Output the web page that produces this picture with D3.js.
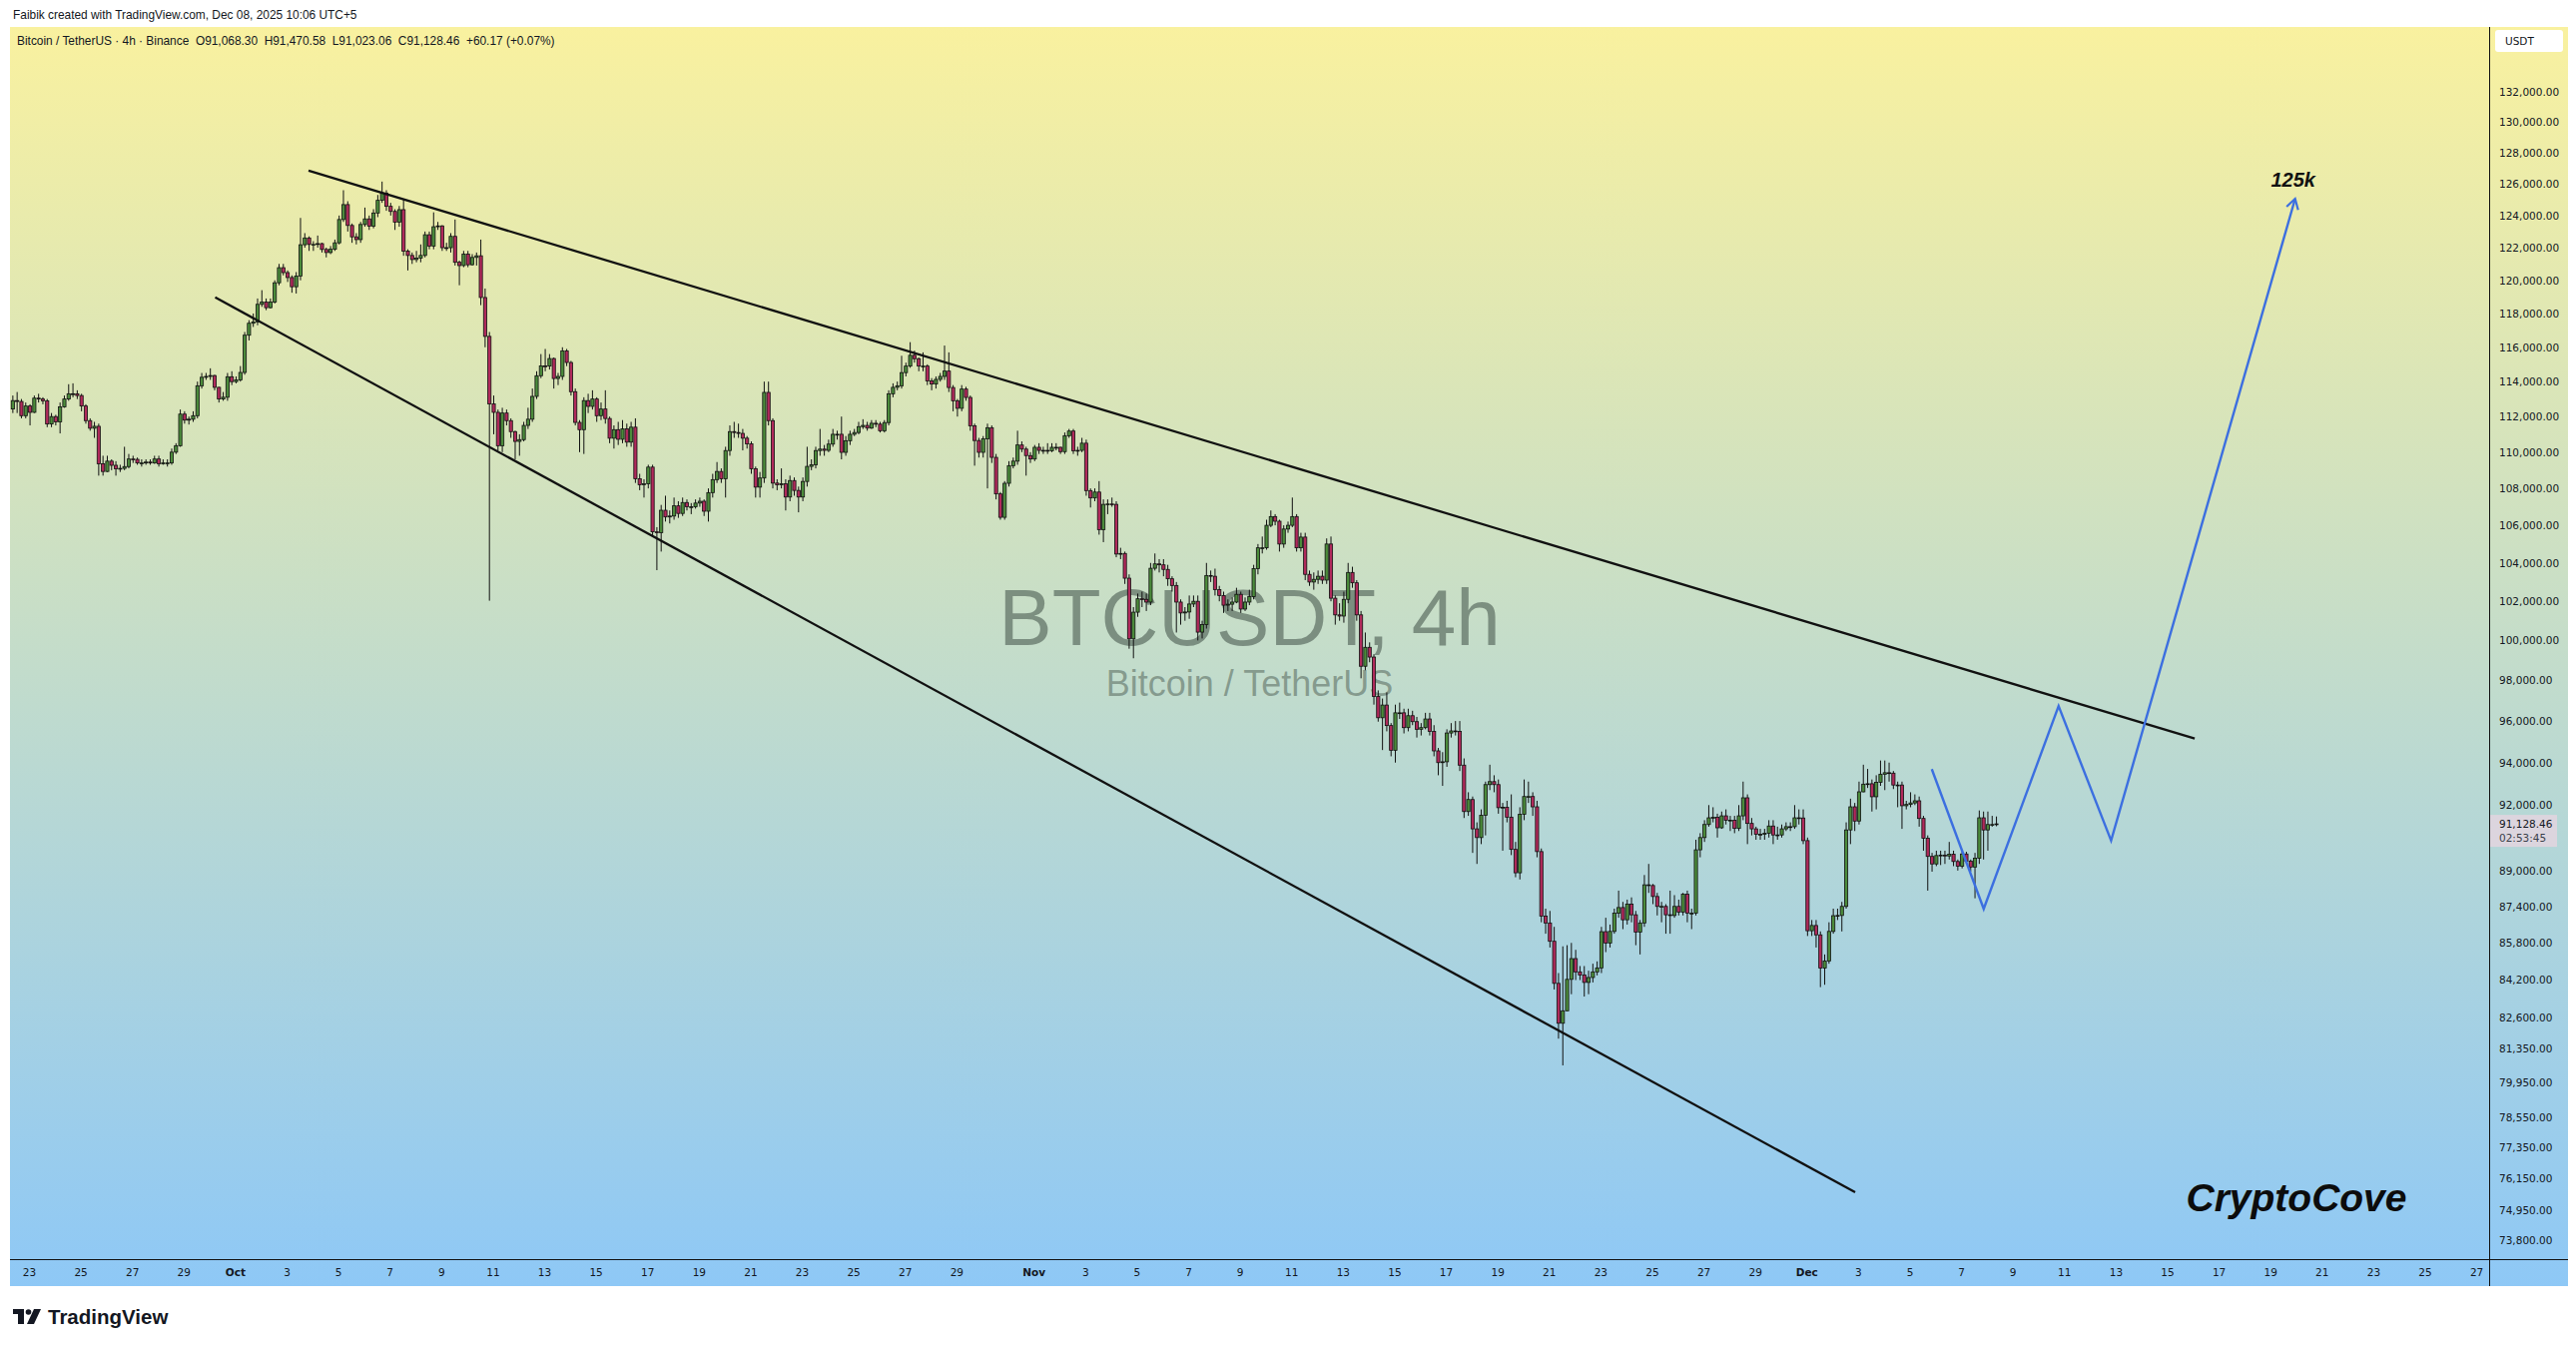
<!DOCTYPE html>
<html>
<head>
<meta charset="utf-8">
<script src="https://cdn.jsdelivr.net/npm/d3@7"></script>
<style>
  body { margin: 0; background: #fff; }
  svg { display: block; }
</style>
</head>
<body>
<svg id="chart"></svg>
<script>
// ---- data (prices in thousands of USDT, 4h candles, times in UTC+5 shown as-is) ----
var firstCandle = "2025-09-22 09:00";
var firstOpen = 112.43;

var closes = [
  112.91,112.86,112.05,112.6,112.24,113.05,113.0,112.9,111.58,112.0,
  111.7,112.55,113.0,113.3,113.3,113.2,112.6,111.77,111.34,111.45,
  109.35,108.93,109.5,109.27,109.08,109.1,109.2,109.62,109.6,109.4,
  109.4,109.45,109.4,109.62,109.35,109.4,109.4,110.0,110.36,112.14,
  111.8,111.85,112.05,113.76,114.25,114.3,114.35,113.67,113.0,113.1,
  114.28,114.0,114.1,114.53,116.71,117.42,117.5,118.55,118.69,118.35,
  118.69,119.85,120.77,120.47,120.17,119.61,120.26,122.18,122.6,122.2,
  122.2,122.25,121.89,121.7,121.9,122.3,123.75,124.69,123.38,122.67,
  122.5,123.44,123.79,123.34,124.16,124.96,125.42,124.58,124.26,123.58,
  124.37,121.79,121.52,121.27,121.35,121.52,122.8,122.1,123.3,123.35,
  122.0,122.0,122.7,121.1,120.9,121.6,120.95,121.4,121.5,118.96,
  116.64,112.72,112.24,110.36,112.2,111.77,111.15,110.6,110.7,111.5,
  111.85,113.15,114.34,114.91,114.9,115.34,114.18,114.3,115.79,115.11,
  113.42,111.67,111.26,112.91,112.58,113.0,112.05,112.43,111.89,110.78,
  111.26,110.72,111.3,110.56,111.4,108.53,108.2,108.25,109.17,105.65,
  105.6,106.81,106.45,106.5,107.05,106.64,107.23,107.0,107.0,107.2,
  107.3,106.76,107.77,108.48,108.93,108.53,110.09,111.15,111.1,111.05,
  110.78,110.46,109.08,108.07,108.57,113.38,111.77,108.29,108.2,108.25,
  107.53,108.43,107.89,107.53,108.38,109.21,109.3,110.09,110.17,110.1,
  110.45,111.0,111.0,109.99,110.64,111.0,111.1,111.43,111.5,111.35,
  111.62,111.57,111.2,111.66,113.3,113.67,113.76,114.52,114.9,115.53,
  115.33,114.9,114.9,114.04,113.86,114.13,114.3,114.61,113.66,112.9,
  112.47,113.57,113.09,111.48,110.65,109.99,110.74,111.37,109.71,107.7,
  106.43,108.28,109.25,109.5,110.4,110.17,109.81,109.62,110.27,110.1,
  110.1,110.08,110.27,110.27,110.03,110.92,111.18,110.08,110.1,110.5,
  107.88,107.48,107.8,105.77,107.13,107.15,107.13,104.47,104.5,103.2,
  100.08,101.44,102.13,102.1,101.96,103.72,103.95,103.9,103.66,103.17,
  102.82,101.96,101.4,101.45,101.86,102.0,100.42,100.8,103.34,103.3,
  102.6,102.3,101.8,101.85,101.96,102.36,101.6,101.96,102.24,103.7,
  104.8,104.8,106.0,106.47,106.22,105.0,105.8,106.0,106.47,104.8,
  105.37,103.4,103.0,103.14,103.3,103.1,105.0,102.16,101.3,101.24,
  102.1,103.5,102.96,101.3,98.7,99.65,99.16,97.2,96.16,96.78,
  95.78,94.59,96.4,96.4,95.68,96.26,95.97,95.6,95.68,96.1,
  95.5,94.56,94.0,94.04,95.42,95.52,95.5,93.88,91.7,92.26,
  90.9,90.5,91.53,92.96,93.1,92.96,91.88,91.9,91.44,89.96,
  88.9,91.57,92.4,92.4,91.92,89.86,86.97,86.67,85.87,84.06,
  82.38,82.9,84.23,85.12,84.55,84.42,84.1,84.31,84.55,84.72,
  86.29,85.79,86.3,87.1,87.35,86.81,87.5,87.03,86.27,86.67,
  88.36,88.33,87.84,87.4,87.4,87.03,87.0,87.4,87.15,87.94,
  87.1,87.1,89.94,90.5,91.1,91.41,91.43,90.95,91.5,91.3,
  91.3,90.92,91.5,92.34,91.15,90.9,90.65,90.65,90.7,91.03,
  90.62,90.62,90.9,91.0,91.0,91.41,91.4,90.36,86.33,86.56,
  86.15,84.71,85.02,86.3,86.99,87.0,87.4,90.85,91.92,91.26,
  92.62,92.98,93.0,92.39,93.07,93.45,93.52,93.5,92.94,92.94,
  91.97,92.03,92.1,92.2,91.38,90.47,89.64,89.3,89.68,89.7,
  89.66,89.74,89.41,89.2,89.75,89.43,89.16,89.56,91.41,90.85,
  91.1,91.1,91.13
];

var highs = [
  113.2,113.4,113.0,112.8,112.7,113.2,113.3,113.1,113.0,112.2,
  112.1,112.8,113.2,113.85,113.9,113.5,113.3,112.7,111.9,111.7,
  111.6,109.8,109.8,109.6,109.5,109.3,110.3,109.9,109.8,109.7,
  109.6,109.6,109.6,109.8,109.8,109.6,109.6,110.2,110.5,112.4,
  112.3,112.0,112.3,114.0,114.5,114.5,114.77,114.4,113.7,113.4,
  114.5,114.6,114.3,114.9,116.9,117.6,118.0,118.9,119.4,118.9,
  118.9,120.0,121.0,121.0,120.6,120.3,120.5,123.85,122.9,122.7,
  122.4,122.75,122.3,122.0,122.1,122.5,124.0,125.6,124.9,123.5,
  122.9,123.6,124.5,124.0,124.4,125.3,126.15,125.6,124.8,124.4,
  124.6,125.0,121.9,121.7,121.8,122.2,123.0,123.0,124.2,123.6,
  123.4,122.3,122.9,123.75,121.2,121.8,121.8,121.6,121.7,122.5,
  119.5,116.9,113.2,112.4,112.5,112.4,111.9,111.2,111.0,111.7,
  112.5,113.6,114.6,115.6,115.9,115.6,115.4,114.5,116.0,115.9,
  115.2,113.6,111.8,113.1,113.3,113.5,113.1,112.8,113.5,112.0,
  111.5,111.7,111.8,111.6,111.7,111.9,108.8,108.5,109.3,109.3,
  105.9,107.1,107.6,106.8,107.5,107.3,107.5,107.4,107.2,107.4,
  107.5,107.4,108.0,108.8,109.45,109.1,110.3,111.5,111.7,111.6,
  111.3,110.9,110.6,109.2,108.9,114.0,114.0,111.9,108.5,109.1,
  108.5,108.7,108.6,108.1,108.6,110.3,109.6,110.3,111.3,110.4,
  110.7,111.3,111.2,112.0,110.9,111.2,111.3,111.7,111.85,111.7,
  111.8,111.8,111.7,111.8,113.5,113.9,114.0,115.5,115.1,116.3,
  115.8,115.4,115.7,115.0,114.2,114.3,114.5,116.1,115.7,113.8,
  113.0,113.8,113.7,113.2,111.6,110.8,110.9,111.6,111.5,109.9,
  107.8,108.4,109.5,109.7,111.2,110.6,110.3,110.0,110.4,110.5,
  110.3,110.5,110.5,110.5,110.3,111.1,111.3,111.3,110.3,110.8,
  110.7,108.0,108.0,108.4,107.4,107.4,107.5,107.3,104.8,104.6,
  103.4,101.7,102.4,102.5,102.4,104.0,104.5,104.2,104.2,103.9,
  103.3,103.0,102.1,101.7,102.3,102.3,102.3,101.0,104.0,103.6,
  103.7,102.8,102.5,102.1,102.2,102.7,102.5,102.2,102.6,103.9,
  105.0,105.4,106.3,106.8,106.6,106.3,106.0,106.2,107.5,106.6,
  105.6,105.6,103.6,103.5,103.6,103.6,105.3,105.4,102.3,101.9,
  102.5,104.0,103.8,103.1,101.5,100.4,99.9,99.3,97.5,97.1,
  97.4,95.9,96.8,96.9,96.6,96.6,96.5,96.2,95.9,96.4,
  96.4,95.8,94.7,94.5,95.6,95.9,96.0,96.0,94.2,92.6,
  92.4,91.2,91.8,93.1,93.9,93.4,93.2,92.1,92.2,92.5,
  90.3,91.9,93.2,93.1,92.6,92.2,90.0,87.3,87.2,86.5,
  84.5,85.65,85.7,85.8,85.5,84.8,84.8,84.6,84.9,85.0,
  86.5,86.9,86.6,87.3,88.1,87.6,87.7,87.8,87.2,86.8,
  88.8,89.3,88.4,88.0,87.6,87.5,88.1,87.9,87.7,88.0,
  88.1,87.3,90.4,90.7,91.3,92.0,91.9,91.6,91.7,91.8,
  91.5,91.5,92.0,93.1,92.5,91.4,91.0,90.9,90.9,91.3,
  91.3,91.0,91.1,91.2,91.2,92.0,91.8,91.8,90.5,86.8,
  86.8,86.3,85.3,86.7,87.3,87.3,87.6,91.2,92.3,92.1,
  93.1,93.9,93.7,93.2,93.4,94.1,94.1,94.0,93.6,93.1,
  93.1,92.2,92.6,92.5,92.4,91.5,90.6,89.8,89.9,89.9,
  89.9,90.3,89.9,89.5,89.9,89.85,89.5,89.8,91.75,91.7,
  91.7,91.5,91.47
];

var lows = [
  112.2,112.2,111.9,111.9,111.5,112.2,112.8,112.7,111.4,111.4,
  111.5,111.05,112.5,112.9,113.1,113.0,112.3,111.6,111.2,110.8,
  108.7,108.7,108.9,109.0,108.7,108.9,109.0,109.1,109.4,109.3,
  109.2,109.3,109.3,109.35,109.2,109.3,109.2,109.3,109.9,110.3,
  111.6,111.55,111.7,111.9,113.6,114.1,114.1,113.5,112.8,112.9,
  112.9,113.8,113.9,114.0,114.4,116.4,117.2,117.3,118.4,118.2,
  118.3,118.6,119.7,120.3,119.9,119.25,119.2,120.0,122.0,121.8,
  121.8,122.0,121.7,121.4,121.6,121.8,122.2,123.6,123.0,122.3,
  122.2,122.3,123.3,123.1,123.2,123.9,124.8,124.3,124.0,123.1,
  123.3,121.5,120.6,121.0,121.1,121.1,121.4,121.9,121.9,123.1,
  121.8,121.8,121.7,120.9,119.7,120.8,120.8,120.9,120.9,118.5,
  116.0,102.03,111.0,110.1,110.0,111.5,110.8,109.6,109.8,110.6,
  111.3,111.7,113.0,114.2,114.6,114.7,113.6,113.8,114.1,114.9,
  113.2,111.5,110.0,109.9,112.2,112.4,111.7,111.8,111.6,110.5,
  110.2,110.4,110.5,110.3,110.3,108.3,107.9,107.5,108.0,105.4,
  103.62,104.6,106.2,106.1,106.3,106.4,106.5,106.8,106.6,106.9,
  107.0,106.5,106.2,107.5,108.3,108.3,107.5,109.8,110.8,110.8,
  110.1,110.2,108.8,107.5,107.5,108.3,111.5,108.0,107.9,108.0,
  106.8,107.3,107.6,106.7,107.3,108.1,109.0,109.1,109.8,109.8,
  110.0,110.3,110.7,109.6,109.8,110.4,110.9,111.0,111.3,111.2,
  111.3,111.4,111.1,111.1,111.5,113.1,113.5,113.6,114.3,114.8,
  115.1,114.6,114.6,113.8,113.5,113.6,114.0,114.1,113.4,112.3,
  112.0,112.3,112.9,111.2,109.25,109.7,109.7,108.0,109.4,107.4,
  106.3,106.3,108.1,109.1,109.3,110.0,108.7,109.4,109.5,109.9,
  109.9,109.9,110.0,110.1,109.9,109.9,110.8,109.9,109.8,110.0,
  107.6,106.96,107.3,105.5,105.1,106.6,107.0,104.3,104.2,102.9,
  99.58,99.1,101.2,101.7,101.5,101.8,103.6,103.5,103.3,102.8,
  102.5,100.4,100.8,101.0,101.1,101.7,100.0,100.1,100.6,103.0,
  102.3,102.0,101.4,101.5,101.5,101.9,101.4,101.5,101.8,102.1,
  103.4,104.5,104.7,105.9,106.0,104.6,104.8,105.6,105.9,104.6,
  104.6,103.1,102.8,102.6,102.9,102.9,102.9,102.0,100.8,101.0,
  100.9,101.9,102.7,101.0,98.1,98.5,98.9,96.8,95.97,94.6,
  95.5,94.3,94.0,96.1,95.4,95.5,95.8,95.2,95.3,95.6,
  95.3,94.3,93.4,92.9,93.8,95.2,95.3,93.6,91.4,91.5,
  89.8,89.3,90.2,90.6,92.7,92.6,91.6,89.9,91.2,89.7,
  88.7,88.6,91.3,92.1,91.5,89.6,86.7,86.2,85.6,83.8,
  81.74,80.64,83.2,83.6,84.2,84.2,83.5,83.6,84.1,84.4,
  84.5,85.4,85.6,86.2,86.9,86.4,86.6,86.7,85.7,85.3,
  86.5,88.0,87.5,87.0,86.7,86.2,86.2,86.9,87.0,87.0,
  86.7,86.4,87.0,89.6,90.3,91.0,91.2,90.5,90.9,91.1,
  90.8,90.7,90.8,91.3,90.2,90.6,90.4,90.4,90.4,90.5,
  90.2,90.4,90.5,90.8,90.8,90.9,91.1,90.2,86.1,86.1,
  85.6,83.9,84.0,84.9,86.2,86.8,86.3,87.3,90.2,90.8,
  91.1,92.6,92.8,91.7,91.8,92.9,92.7,93.1,92.75,91.9,
  90.9,91.8,91.9,92.0,91.0,89.9,88.1,88.95,89.2,89.25,
  89.3,89.5,89.2,89.0,89.1,89.3,88.95,87.76,89.3,89.5,
  89.9,91.0,91.02
];

// price axis labels (log scale)
var priceTicks = [132, 130, 128, 126, 124, 122, 120, 118, 116, 114, 112, 110, 108, 106, 104, 102, 100,
  98, 96, 94, 92, 89, 87.4, 85.8, 84.2, 82.6, 81.35, 79.95, 78.55, 77.35, 76.15, 74.95, 73.8];

// time axis labels
var dayTicks = [
  ["2025-09-23", "23"], ["2025-09-25", "25"], ["2025-09-27", "27"], ["2025-09-29", "29"],
  ["2025-10-01", "Oct"], ["2025-10-03", "3"], ["2025-10-05", "5"], ["2025-10-07", "7"],
  ["2025-10-09", "9"], ["2025-10-11", "11"], ["2025-10-13", "13"], ["2025-10-15", "15"],
  ["2025-10-17", "17"], ["2025-10-19", "19"], ["2025-10-21", "21"], ["2025-10-23", "23"],
  ["2025-10-25", "25"], ["2025-10-27", "27"], ["2025-10-29", "29"], ["2025-11-01", "Nov"],
  ["2025-11-03", "3"], ["2025-11-05", "5"], ["2025-11-07", "7"], ["2025-11-09", "9"],
  ["2025-11-11", "11"], ["2025-11-13", "13"], ["2025-11-15", "15"], ["2025-11-17", "17"],
  ["2025-11-19", "19"], ["2025-11-21", "21"], ["2025-11-23", "23"], ["2025-11-25", "25"],
  ["2025-11-27", "27"], ["2025-11-29", "29"], ["2025-12-01", "Dec"], ["2025-12-03", "3"],
  ["2025-12-05", "5"], ["2025-12-07", "7"], ["2025-12-09", "9"], ["2025-12-11", "11"],
  ["2025-12-13", "13"], ["2025-12-15", "15"], ["2025-12-17", "17"], ["2025-12-19", "19"],
  ["2025-12-21", "21"], ["2025-12-23", "23"], ["2025-12-25", "25"], ["2025-12-27", "27"]
];

// drawings
var upperTrend = [["2025-10-03 20:28", 126.85], ["2025-12-16 01:41", 95.15]];
var lowerTrend = [["2025-09-30 05:29", 118.97], ["2025-12-02 21:22", 75.62]];
var projection = [["2025-12-05 20:44", 93.69], ["2025-12-07 21:07", 87.29], ["2025-12-10 18:53", 96.73],
  ["2025-12-12 19:49", 90.36], ["2025-12-19 23:15", 125.06]];
var lastPrice = 91.12846;

// ---- layout ----
var W = 2580, H = 1349;
var plotLeft = 10, plotRight = 2493, plotTop = 27, axisY = 1261, plotBottom = 1288, outerRight = 2572;
var font = "'Liberation Sans', Arial, sans-serif";
var axisFont = "'DejaVu Sans', Verdana, sans-serif";
var ink = "#131722";

var parseT = d3.utcParse("%Y-%m-%d %H:%M");
var parseD = d3.utcParse("%Y-%m-%d");

var x = d3.scaleUtc()
  .domain([parseT("2025-09-22 06:20"), parseT("2025-12-27 12:00")])
  .range([plotLeft, plotRight]);
var y = d3.scaleLog()
  .domain([73.8, 132])
  .range([1242.3, 92.2]);

var t0 = parseT(firstCandle).getTime();
var candles = closes.map(function (c, i) {
  var o = i === 0 ? firstOpen : closes[i - 1];
  return {
    date: new Date(t0 + i * 4 * 3600 * 1000),
    open: o,
    close: c,
    high: Math.max(highs[i], o, c),
    low: Math.min(lows[i], o, c)
  };
});

var svg = d3.select("#chart").attr("width", W).attr("height", H);
var defs = svg.append("defs");

var grad = defs.append("linearGradient").attr("id", "bg")
  .attr("x1", 0).attr("y1", 0).attr("x2", 0).attr("y2", 1);
grad.append("stop").attr("offset", "0%").attr("stop-color", "#f9f19f");
grad.append("stop").attr("offset", "100%").attr("stop-color", "#8ec8f6");

defs.append("clipPath").attr("id", "plot")
  .append("rect").attr("x", plotLeft).attr("y", plotTop)
  .attr("width", plotRight - plotLeft).attr("height", axisY - plotTop);

defs.append("marker").attr("id", "arrow")
  .attr("viewBox", "-12 -8 14 16").attr("refX", 0).attr("refY", 0)
  .attr("markerWidth", 14).attr("markerHeight", 16)
  .attr("markerUnits", "userSpaceOnUse").attr("orient", "auto")
  .append("path").attr("d", "M-10,-6L0,0L-10,6")
  .attr("fill", "none").attr("stroke", "#3c6fe0").attr("stroke-width", 2.2);

// background
svg.append("rect").attr("x", plotLeft).attr("y", plotTop)
  .attr("width", outerRight - plotLeft).attr("height", plotBottom - plotTop)
  .attr("fill", "url(#bg)");

// header
svg.append("text").attr("x", 13).attr("y", 19)
  .attr("font-family", font).attr("font-size", 11.9).attr("fill", ink)
  .text("Faibik created with TradingView.com, Dec 08, 2025 10:06 UTC+5");
svg.append("text").attr("x", 17).attr("y", 45)
  .attr("font-family", font).attr("font-size", 11.9).attr("fill", ink)
  .attr("xml:space", "preserve")
  .text("Bitcoin / TetherUS \u00b7 4h \u00b7 Binance  O91,068.30  H91,470.58  L91,023.06  C91,128.46  +60.17 (+0.07%)");

// watermark
var cx = (plotLeft + plotRight) / 2;
svg.append("text").attr("x", cx).attr("y", 646).attr("text-anchor", "middle")
  .attr("font-family", font).attr("font-size", 80).attr("fill", "rgba(74,90,80,0.6)")
  .text("BTCUSDT, 4h");
svg.append("text").attr("x", cx).attr("y", 697).attr("text-anchor", "middle")
  .attr("font-family", font).attr("font-size", 36).attr("fill", "rgba(74,90,80,0.5)")
  .text("Bitcoin / TetherUS");

var plot = svg.append("g").attr("clip-path", "url(#plot)");

// candles
var cg = plot.append("g");
cg.selectAll("line.wick").data(candles).enter().append("line")
  .attr("class", "wick")
  .attr("x1", function (d) { return x(d.date); })
  .attr("x2", function (d) { return x(d.date); })
  .attr("y1", function (d) { return y(d.high); })
  .attr("y2", function (d) { return y(d.low); })
  .attr("stroke", "#111").attr("stroke-width", 1);

cg.selectAll("rect.body").data(candles).enter().append("rect")
  .attr("class", "body")
  .attr("x", function (d) { return x(d.date) - 1.6; })
  .attr("width", 3.2)
  .attr("y", function (d) { return y(Math.max(d.open, d.close)); })
  .attr("height", function (d) { return Math.max(0.8, Math.abs(y(d.open) - y(d.close))); })
  .attr("fill", function (d) { return d.close >= d.open ? "#4b8b3b" : "#b02a5b"; })
  .attr("stroke", "#111").attr("stroke-width", 0.8);

// trend lines
var line = d3.line()
  .x(function (d) { return x(parseT(d[0])); })
  .y(function (d) { return y(d[1]); });

plot.append("path").datum(upperTrend).attr("d", line)
  .attr("fill", "none").attr("stroke", "#111").attr("stroke-width", 2.3);
plot.append("path").datum(lowerTrend).attr("d", line)
  .attr("fill", "none").attr("stroke", "#111").attr("stroke-width", 2.3);

plot.append("path").datum(projection).attr("d", line)
  .attr("fill", "none").attr("stroke", "#3c6fe0").attr("stroke-width", 2.4)
  .attr("stroke-linejoin", "miter").attr("marker-end", "url(#arrow)");

var tip = projection[projection.length - 1];
svg.append("text")
  .attr("x", x(parseT(tip[0])) - 2).attr("y", y(tip[1]) - 12)
  .attr("text-anchor", "middle")
  .attr("font-family", font).attr("font-size", 20).attr("font-weight", "bold").attr("font-style", "italic")
  .attr("fill", "#111").text("125k");

svg.append("text").attr("x", 2300).attr("y", 1213).attr("text-anchor", "middle")
  .attr("font-family", font).attr("font-size", 39).attr("font-weight", "bold").attr("font-style", "italic")
  .attr("fill", "#0c0c0c").text("CryptoCove");

// axes frame
svg.append("line").attr("x1", plotLeft).attr("x2", outerRight).attr("y1", axisY + 0.5).attr("y2", axisY + 0.5)
  .attr("stroke", "#111").attr("stroke-width", 1);
svg.append("line").attr("x1", plotRight + 0.5).attr("x2", plotRight + 0.5).attr("y1", plotTop).attr("y2", plotBottom)
  .attr("stroke", "#111").attr("stroke-width", 1);

// time axis
var tickMap = {};
dayTicks.forEach(function (t) { tickMap[+parseD(t[0])] = t[1]; });
var xAxis = d3.axisBottom(x)
  .tickValues(dayTicks.map(function (t) { return parseD(t[0]); }))
  .tickFormat(function (d) { return tickMap[+d]; })
  .tickSize(0).tickPadding(10);
var gx = svg.append("g").attr("transform", "translate(0," + axisY + ")").call(xAxis);
gx.select(".domain").remove();
gx.selectAll("text")
  .attr("font-family", axisFont).attr("font-size", 10.5).attr("fill", ink)
  .attr("font-weight", function (d) { return /[A-Z]/.test(tickMap[+d]) ? "bold" : "normal"; });

// price axis
var fmt = d3.format(",.2f");
var yAxis = d3.axisRight(y)
  .tickValues(priceTicks)
  .tickFormat(function (d) { return fmt(d * 1000); })
  .tickSize(0).tickPadding(10);
var gy = svg.append("g").attr("transform", "translate(" + plotRight + ",0)").call(yAxis);
gy.select(".domain").remove();
gy.selectAll("text").attr("font-family", axisFont).attr("font-size", 10.5).attr("fill", ink);

// currency box
svg.append("rect").attr("x", 2499).attr("y", 30).attr("width", 68).attr("height", 22).attr("rx", 3)
  .attr("fill", "#fff");
svg.append("text").attr("x", 2509).attr("y", 45)
  .attr("font-family", axisFont).attr("font-size", 10.5).attr("fill", ink).text("USDT");

// last price label
var ly = y(lastPrice);
svg.append("rect").attr("x", plotRight + 1).attr("y", ly - 9).attr("width", 67).attr("height", 32)
  .attr("fill", "#dcd5de");
svg.append("text").attr("x", plotRight + 10).attr("y", ly + 4)
  .attr("font-family", axisFont).attr("font-size", 10.5).attr("fill", ink)
  .text(fmt(lastPrice * 1000));
svg.append("text").attr("x", plotRight + 10).attr("y", ly + 18)
  .attr("font-family", axisFont).attr("font-size", 10.5).attr("fill", "#3a3f4a")
  .text("02:53:45");

// TradingView logo
var logo = svg.append("g").attr("fill", ink);
logo.append("path").attr("d", "M13,1311H24V1326H18V1316H13Z");
logo.append("circle").attr("cx", 28.5).attr("cy", 1314).attr("r", 2.8);
logo.append("path").attr("d", "M34,1311H41L34,1326H27Z");
svg.append("text").attr("x", 48).attr("y", 1326)
  .attr("font-family", font).attr("font-size", 20.5).attr("font-weight", "bold").attr("fill", ink)
  .text("TradingView");
</script>
</body>
</html>
